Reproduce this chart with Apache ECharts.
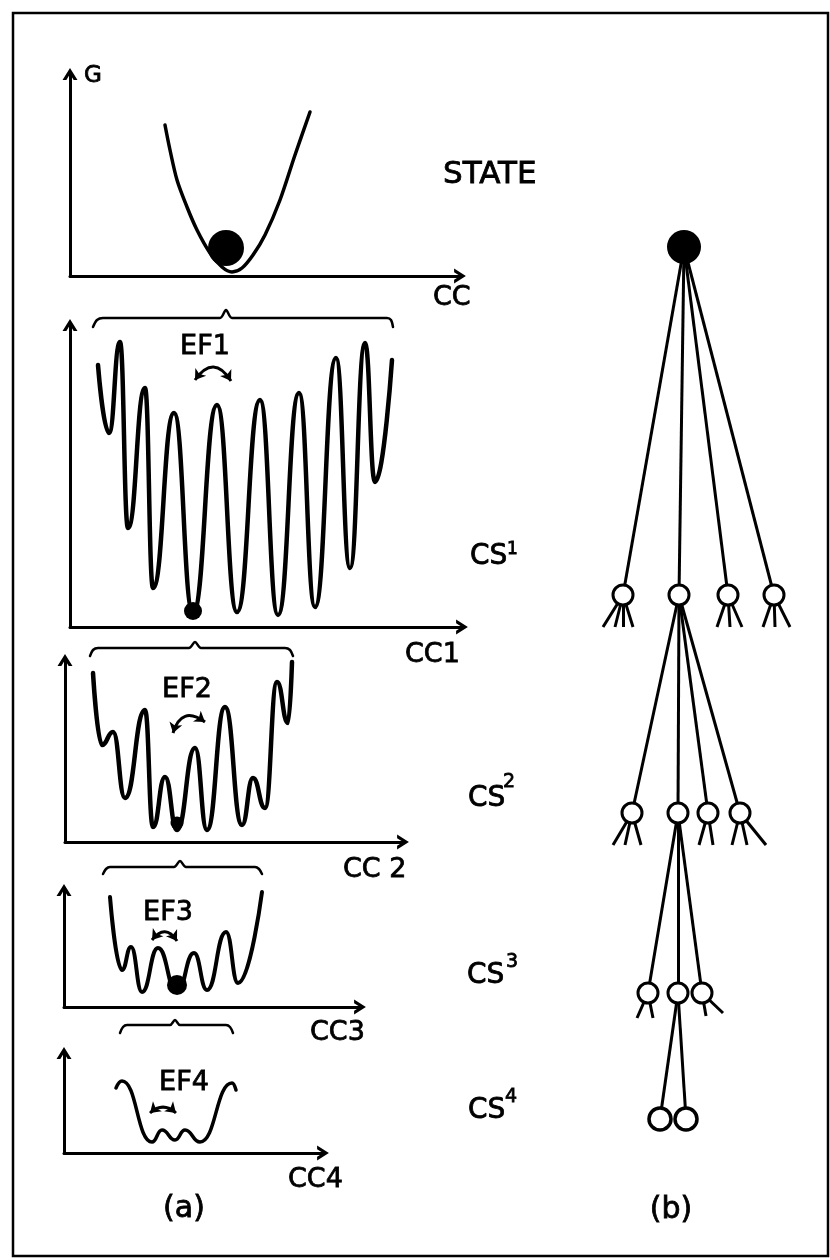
<!DOCTYPE html>
<html>
<head>
<meta charset="utf-8">
<script src="https://cdn.jsdelivr.net/npm/echarts@6/dist/echarts.min.js"></script>
<style>
html, body { margin: 0; padding: 0; background: #fff; }
#chart { width: 830px; height: 1260px; }
</style>
</head>
<body>
<div id="chart"></div>
<script>
// (a) energy landscapes: [cc, G] measured from each panel's origin
const stateCurve = [[95,151],[100,126],[107,96],[117,69],[127,46],[140,23],[152,9],[162,4],[172,8],[183,21],[195,41],[210,76],[225,121],[240,164]];
const cs1Curve = [[28,262],[39,194],[50,285],[58,99],[75,239],[83,39],[104,214],[123,14],[147,222],[167,15],[190,227],[208,12],[229,234],[245,20],[266,269],[280,59],[295,284],[305,145],[322,267]];
const cs2Curve = [[28,169],[37,97],[48,110],[60,44],[80,132],[88,15],[100,65],[112,12],[130,94],[142,12],[160,135],[177,17],[188,64],[200,34],[212,160],[223,119],[227,180]];
const cs3Curve = [[46,110],[58,37],[67,60],[78,15],[94,59],[113,15],[130,54],[143,17],[162,75],[174,24],[198,115]];
const cs4Curve = [[52,65],[58,72],[88,11],[98,23],[111,13],[121,23],[136,11],[168,70],[172,63]];

// where the system sits in each landscape
const stateBall = [156, 28];
const cs1Ball = [123, 16];
const cs2Ball = [112, 19];
const cs3Ball = [113, 22];

// braces grouping the substates of the level above
const brace1 = [[23,300],[27,307],[33,309],[150,309],[156,317],[162,309],[317,309],[321,307],[323,300]];
const brace2 = [[25,186],[28,192],[33,194],[124,194],[130,200],[136,194],[220,194],[225,192],[228,186]];
const brace3 = [[39,133],[42,138],[46,140],[110,140],[116,146],[122,140],[191,140],[195,138],[198,133]];
const brace4 = [[56,120],[59,126],[63,128],[106,128],[111,133],[116,128],[162,128],[166,126],[169,120]];

// EF exchange arrows (start, end)
const ef1 = [[125,247],[161,246]];
const ef2 = [[108,109],[140,120]];
const ef3 = [[88,67],[113,66]];
const ef4 = [[86,40],[112,40]];

// (b) hierarchy tree: [x offset from root, depth]
const treeRoot = [0, 27];
const level1 = [[-61,375],[-5,375],[44,375],[90,375]];
const level2 = [[-52,593],[-6,593],[24,593],[56,593]];
const level3 = [[-36,773],[-6,773],[18,773]];
const level4 = [[-24,899],[2,899]];
// short twigs under the substates that are not expanded
const twigs = [
    [level1[0], [[-81,407],[-69,407],[-61,407],[-51,407]]],
    [level1[2], [[33,407],[46,407],[58,407]]],
    [level1[3], [[79,407],[91,407],[106,407]]],
    [level2[0], [[-71,625],[-59,625],[-43,625]]],
    [level2[2], [[15,625],[29,625]]],
    [level2[3], [[48,625],[63,625],[82,625]]],
    [level3[0], [[-47,798],[-31,798]]],
    [level3[2], [[22,796],[39,793]]]
];

const font = 'DejaVu Sans';
const chevron = 'path://M0,11 L7,0 L14,11 L10.4,11 L7,5.4 L3.6,11 Z';

// panel frames: left, top, width, height (px)
const panels = [
    [70, 74, 390, 202],
    [70, 325, 392, 302],
    [65, 660, 338, 182],
    [64, 890, 296, 117],
    [64, 1053, 259, 100]
];

let grids = [], xAxes = [], yAxes = [];
panels.forEach(p => {
    grids.push({ left: p[0], top: p[1], width: p[2], height: p[3] });
    const axisLine = { show: true, symbol: ['none', chevron], symbolSize: [15, 12], lineStyle: { color: '#000', width: 3 } };
    xAxes.push({ type: 'value', gridIndex: grids.length - 1, min: 0, max: p[2], axisLine: axisLine,
        axisTick: { show: false }, axisLabel: { show: false }, splitLine: { show: false } });
    yAxes.push({ type: 'value', gridIndex: grids.length - 1, min: 0, max: p[3], axisLine: axisLine,
        axisTick: { show: false }, axisLabel: { show: false }, splitLine: { show: false } });
});
// tree grid
grids.push({ left: 560, top: 220, width: 260, height: 940 });
xAxes.push({ type: 'value', gridIndex: 5, min: -124, max: 136, show: false });
yAxes.push({ type: 'value', gridIndex: 5, min: 0, max: 940, inverse: true, show: false });

function curve(data, idx, width, monotone) {
    return { type: 'line', xAxisIndex: idx, yAxisIndex: idx, data: data, smooth: monotone ? 0.5 : 0.3,
        smoothMonotone: monotone ? 'x' : undefined, symbol: 'none', clip: false,
        lineStyle: { color: '#000', width: width, cap: 'round', join: 'round' } };
}
function brace(data, idx) {
    return { type: 'line', xAxisIndex: idx, yAxisIndex: idx, data: data, smooth: 0.3, symbol: 'none', clip: false,
        lineStyle: { color: '#000', width: 2.5, cap: 'round' } };
}
function ball(pt, idx, size) {
    return { type: 'scatter', xAxisIndex: idx, yAxisIndex: idx, data: [pt], symbolSize: size, z: 4,
        itemStyle: { color: '#000', opacity: 1 } };
}
function efArrow(pts, idx, curveness) {
    return { type: 'lines', coordinateSystem: 'cartesian2d', xAxisIndex: idx, yAxisIndex: idx,
        symbol: ['arrow', 'arrow'], symbolSize: 10,
        lineStyle: { color: '#000', width: 3, curveness: curveness, opacity: 1 },
        data: [{ coords: pts }] };
}

// tree edges
let treeEdges = [];
level1.forEach(n => treeEdges.push({ coords: [treeRoot, n] }));
level2.forEach(n => treeEdges.push({ coords: [level1[1], n] }));
level3.forEach(n => treeEdges.push({ coords: [level2[1], n] }));
level4.forEach(n => treeEdges.push({ coords: [level3[1], n] }));
twigs.forEach(t => t[1].forEach(e => treeEdges.push({ coords: [t[0], e] })));

const series = [
    curve(stateCurve, 0, 3.5, false),
    curve(cs1Curve, 1, 4.5, true),
    curve(cs2Curve, 2, 4.5, true),
    curve(cs3Curve, 3, 4, true),
    curve(cs4Curve, 4, 3.5, true),
    ball(stateBall, 0, 36), ball(cs1Ball, 1, 18), ball(cs2Ball, 2, 13), ball(cs3Ball, 3, 20),
    brace(brace1, 1), brace(brace2, 2), brace(brace3, 3), brace(brace4, 4),
    efArrow(ef1, 1, 0.75), efArrow(ef2, 2, 0.7), efArrow(ef3, 3, 0.7), efArrow(ef4, 4, 0.45),
    { type: 'lines', coordinateSystem: 'cartesian2d', xAxisIndex: 5, yAxisIndex: 5, z: 2,
      lineStyle: { color: '#000', width: 3, opacity: 1, curveness: 0 }, data: treeEdges },
    { type: 'scatter', xAxisIndex: 5, yAxisIndex: 5, z: 3, data: [treeRoot], symbolSize: 34,
      itemStyle: { color: '#000', opacity: 1 } },
    { type: 'scatter', xAxisIndex: 5, yAxisIndex: 5, z: 3, data: level1.concat(level2, level3), symbolSize: 20,
      itemStyle: { color: '#fff', borderColor: '#000', borderWidth: 3, opacity: 1 } },
    { type: 'scatter', xAxisIndex: 5, yAxisIndex: 5, z: 3, data: level4, symbolSize: 22,
      itemStyle: { color: '#fff', borderColor: '#000', borderWidth: 3.5, opacity: 1 } }
];

function label(text, x, y, size, align) {
    return { type: 'text', x: x, y: y, z: 10,
        style: { text: text, fontSize: size, fontFamily: font, fill: '#000', stroke: '#000', lineWidth: 0.8,
            align: align || 'left', verticalAlign: 'middle' } };
}

const texts = [
    label('G', 84, 76, 23),
    label('STATE', 443, 175, 31),
    label('CC', 433, 298, 27),
    label('EF1', 205, 347, 27, 'center'),
    label('CC1', 405, 655, 27),
    label('CS', 470, 557, 28), label('1', 507, 550, 17),
    label('EF2', 187, 690, 27, 'center'),
    label('CC 2', 343, 870, 27),
    label('CS', 468, 799, 28), label('2', 503, 782, 19),
    label('EF3', 168, 913, 27, 'center'),
    label('CC3', 310, 1033, 27),
    label('CS', 467, 976, 28), label('3', 506, 962, 19),
    label('EF4', 184, 1083, 27, 'center'),
    label('CC4', 288, 1180, 27),
    label('CS', 468, 1111, 28), label('4', 505, 1097, 19),
    label('(a)', 184, 1209, 30, 'center'),
    label('(b)', 671, 1210, 30, 'center')
];

const chart = echarts.init(document.getElementById('chart'), null, { renderer: 'canvas' });
chart.setOption({
    animation: false,
    backgroundColor: '#fff',
    grid: grids,
    xAxis: xAxes,
    yAxis: yAxes,
    series: series,
    graphic: {
        elements: [{ type: 'rect', z: 0, shape: { x: 13, y: 13, width: 815, height: 1243 },
            style: { fill: 'none', stroke: '#000', lineWidth: 2.5 } }].concat(texts)
    }
});
</script>
</body>
</html>
